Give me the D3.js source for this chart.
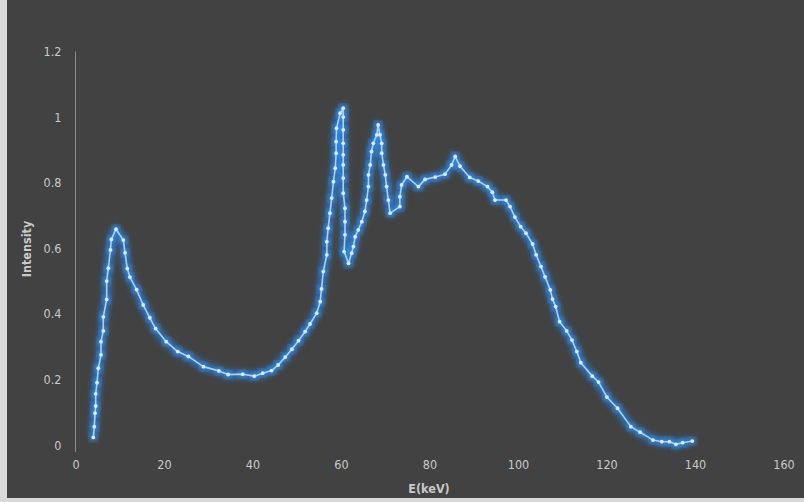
<!DOCTYPE html>
<html lang="en">
<head>
  <meta charset="UTF-8">
  <title>Spectrum</title>
  <script src="https://d3js.org/d3.v7.min.js"></script>
  <style>
    body { margin: 0; background: #d9d9d9; }
    text { font-family: "Liberation Sans Narrow", "DejaVu Sans Condensed", "Liberation Sans", sans-serif; }
  </style>
</head>
<body>
  <svg id="chart" width="804" height="502"></svg>
  <script>
    // energy (keV) and intensity in drawing order
    const energy = [4.02, 4.25, 4.41, 4.57, 4.57, 4.86, 5.15, 5.76, 5.76, 6.28, 6.28, 7.05, 7.05, 7.41, 7.9, 8.1,
      9.15, 10.8, 11.2, 11.7, 12.3, 13.8, 15.3, 16.8, 18.1, 20.5, 23.1, 25.5, 28.9, 32.4, 34.5, 37.8,
      40.4, 42.3, 44.3, 45.8, 47.4, 48.9, 50.4, 51.9, 53.0, 54.5, 55.3, 55.6, 56.0, 56.8, 56.8, 57.1,
      57.5, 57.9, 58.3, 58.7, 58.9, 58.9, 59.0, 59.8, 60.5, 60.5, 60.5, 60.5, 60.5, 60.5, 60.5, 60.5,
      60.9, 60.9, 60.9, 60.7, 61.7, 62.4, 62.8, 63.2, 63.9, 64.7, 65.4, 65.8, 66.2, 66.2, 66.6, 66.9,
      67.3, 68.1, 68.4, 68.8, 69.2, 69.2, 69.6, 70.0, 70.3, 70.7, 71.1, 73.3, 73.3, 73.7, 74.9, 77.5,
      79.0, 81.3, 83.5, 85.0, 85.8, 86.9, 89.1, 91.0, 93.1, 94.2, 94.8, 97.3, 98.2, 99.3, 100.6, 101.8,
      103.3, 104.1, 105.2, 106.1, 107.3, 107.8, 108.5, 109.4, 111.0, 112.2, 113.3, 114.2, 116.8, 118.2,
      120.1, 122.5, 125.5, 127.6, 130.5, 132.5, 134.2, 135.7, 137.2, 139.4];
    const intensity = [0.023, 0.056, 0.097, 0.119, 0.156, 0.19, 0.234, 0.275, 0.315, 0.348, 0.391, 0.444, 0.5, 0.539, 0.595, 0.627,
      0.658, 0.625, 0.586, 0.538, 0.512, 0.474, 0.427, 0.388, 0.355, 0.315, 0.285, 0.27, 0.239, 0.226, 0.215, 0.216,
      0.21, 0.219, 0.227, 0.244, 0.268, 0.292, 0.318, 0.346, 0.369, 0.402, 0.437, 0.476, 0.529, 0.58, 0.62, 0.661,
      0.707, 0.753, 0.803, 0.844, 0.89, 0.925, 0.966, 1.012, 1.027, 1.0, 0.961, 0.92, 0.885, 0.854, 0.814, 0.768,
      0.722, 0.681, 0.641, 0.59, 0.554, 0.585, 0.605, 0.635, 0.656, 0.681, 0.712, 0.747, 0.788, 0.824, 0.854, 0.895,
      0.92, 0.946, 0.976, 0.946, 0.92, 0.89, 0.854, 0.824, 0.788, 0.747, 0.707, 0.727, 0.757, 0.793, 0.818, 0.788,
      0.81, 0.817, 0.826, 0.854, 0.88, 0.85, 0.816, 0.805, 0.788, 0.771, 0.747, 0.747, 0.727, 0.695, 0.666, 0.646,
      0.613, 0.58, 0.544, 0.513, 0.473, 0.445, 0.422, 0.376, 0.348, 0.32, 0.285, 0.251, 0.21, 0.192,
      0.146, 0.112, 0.056, 0.039, 0.015, 0.01, 0.01, 0.002, 0.007, 0.012];
    const xTicks = [0, 20, 40, 60, 80, 100, 120, 140, 160];
    const yTicks = [0, 0.2, 0.4, 0.6, 0.8, 1, 1.2];

    const points = energy.map((e, i) => ({ x: e, y: intensity[i] }));

    const svg = d3.select("#chart");

    // dark panel, light frame shows at left and bottom
    svg.append("rect").attr("x", 7).attr("y", 0).attr("width", 797).attr("height", 498).attr("fill", "#424242");

    const x = d3.scaleLinear().domain([0, 160]).range([75.5, 783.5]);
    const y = d3.scaleLinear().domain([0, 1.2]).range([445, 51.5]);

    // glow filter for the series
    const defs = svg.append("defs");
    const glow = defs.append("filter").attr("id", "glow")
      .attr("x", "-10%").attr("y", "-10%").attr("width", "120%").attr("height", "120%");
    glow.append("feGaussianBlur").attr("stdDeviation", 3.2);

    // y axis: only the line and labels
    const yAxis = svg.append("g").attr("transform", `translate(${x(0)},0)`)
      .call(d3.axisLeft(y).tickValues(yTicks).tickSize(0).tickPadding(14)
        .tickFormat(d => d3.format("~g")(d)));
    yAxis.select(".domain").attr("stroke", "#8c8c8c").attr("d", `M0,${y(1.2)}V${y(0) + 7}`);
    yAxis.selectAll("text").attr("fill", "#c9c9c9").style("font-size", "12.5px");

    const xAxis = svg.append("g").attr("transform", `translate(0,${y(0)})`)
      .call(d3.axisBottom(x).tickValues(xTicks).tickSize(0).tickPadding(15));
    xAxis.select(".domain").remove();
    xAxis.selectAll("text").attr("fill", "#c9c9c9").style("font-size", "12.5px");

    svg.append("text").attr("x", 429).attr("y", 493).attr("text-anchor", "middle")
      .attr("fill", "#c9c9c9").style("font-size", "12.5px").style("font-weight", "bold").text("E(keV)");
    svg.append("text").attr("transform", "translate(31,249) rotate(-90)").attr("text-anchor", "middle")
      .attr("fill", "#c9c9c9").style("font-size", "12.5px").style("font-weight", "bold").text("Intensity");

    const line = d3.line().x(d => x(d.x)).y(d => y(d.y));

    const series = svg.append("g");
    series.append("path").datum(points).attr("d", line)
      .attr("fill", "none").attr("stroke", "#2b86ea").attr("stroke-width", 7)
      .attr("stroke-linejoin", "round").attr("opacity", 0.85).attr("filter", "url(#glow)");
    series.selectAll("circle.halo").data(points).enter().append("circle")
      .attr("class", "halo").attr("cx", d => x(d.x)).attr("cy", d => y(d.y)).attr("r", 4)
      .attr("fill", "#3a94f2").attr("opacity", 0.8).attr("filter", "url(#glow)");
    series.append("path").datum(points).attr("d", line)
      .attr("fill", "none").attr("stroke", "#a3d2fb").attr("stroke-width", 1.6)
      .attr("stroke-linejoin", "round");
    series.selectAll("circle.dot").data(points).enter().append("circle")
      .attr("class", "dot").attr("cx", d => x(d.x)).attr("cy", d => y(d.y)).attr("r", 1.9)
      .attr("fill", "#d4ebff");
  </script>
</body>
</html>
